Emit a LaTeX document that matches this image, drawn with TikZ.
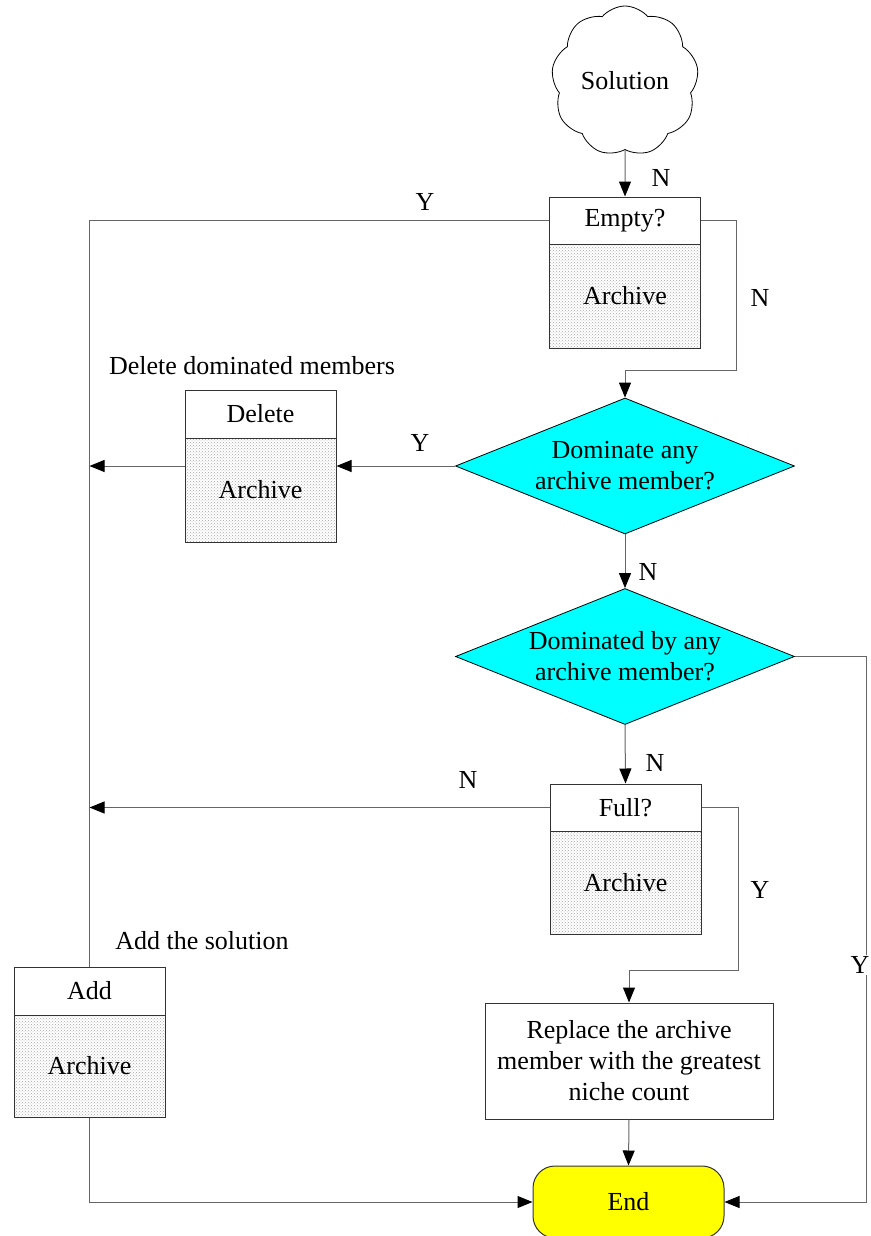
\documentclass[tikz,border=0pt]{standalone}
\usepackage{fontspec}
\setmainfont{Liberation Serif}
\usetikzlibrary{shapes.geometric,shapes.symbols,arrows.meta,patterns}
\definecolor{aquafill}{RGB}{0,255,255}
\definecolor{endfill}{RGB}{255,255,0}
\begin{document}
\begin{tikzpicture}[x=1pt,y=-1pt,
  every node/.style={font=\fontsize{26}{31}\selectfont},
  topbox/.style={draw=black!80,line width=1pt,fill=white,inner sep=0pt,minimum width=151pt,minimum height=47pt},
  arcbox/.style={draw=black!80,line width=1pt,pattern=crosshatch dots,pattern color=black!35,inner sep=0pt,minimum width=151pt,minimum height=104pt},
  decision/.style={diamond,draw=black,line width=0.8pt,fill=aquafill,shape aspect=2.5,inner sep=0pt,minimum width=339pt,minimum height=136pt,align=center},
  conn/.style={draw=black!60,line width=1pt},
  arr/.style={conn,-{Triangle[length=15pt,width=12pt,color=black]}},
  lbl/.style={inner sep=0pt}
]
\useasboundingbox (0,0) rectangle (870,1236);
\clip (0,0) rectangle (870,1236);

% nodes
\node[cloud,draw=black,line width=0.8pt,cloud puffs=9,cloud puff arc=100,aspect=1,minimum width=147pt,minimum height=150pt,inner sep=0pt] (sol) at (625,81) {Solution};

\node[arcbox] (emptyB) at (625,296) {Archive};
\node[topbox] (emptyT) at (625,220.5) {Empty?};

\node[decision] (d1) at (625,466) {Dominate any\\archive member?};

\node[arcbox] (delB) at (260.5,490) {Archive};
\node[topbox,minimum height=48pt] (delT) at (260.5,414) {Delete};

\node[decision] (d2) at (625,656.5) {Dominated by any\\archive member?};

\node[arcbox,minimum height=103pt] (fullB) at (625.5,882.5) {Archive};
\node[topbox] (fullT) at (625.5,807.5) {Full?};

\node[arcbox,minimum height=102pt] (addB) at (89.5,1066) {Archive};
\node[topbox,minimum height=48pt] (addT) at (89.5,991) {Add};

\node[draw=black!80,line width=1pt,inner sep=0pt,minimum width=288pt,minimum height=116pt,align=center] (rep) at (629,1061) {Replace the archive\\member with the greatest\\niche count};

\node[draw=black!80,line width=1pt,fill=endfill,rounded corners=22pt,inner sep=0pt,minimum width=191pt,minimum height=72pt] (end) at (628.5,1202) {End};

\coordinate (R) at (866,0);
\coordinate (T1) at (736,370);
\coordinate (T2) at (738,970);

% connectors
\draw[arr] (sol.south) -- (emptyT.north);
\draw[conn] (emptyT.west) -| (addT.north);
\draw[arr] (emptyT.east) -| (T1) -| (d1.north);
\draw[arr] (d1.west) -- (d1.west -| delB.east);
\draw[arr] (d1.west -| delB.west) -- (d1.west -| addT.north);
\draw[arr] (d1.south) -- (d2.north);
\draw[arr] (d2.east) -- (d2.east -| R) |- (end.east);
\draw[arr] (d2.south) -- (fullT.north);
\draw[arr] (fullT.west) -- (fullT.west -| addT.north);
\draw[arr] (fullT.east) -| (T2) -| (rep.north);
\draw[arr] (rep.south) -- (end.north);
\draw[arr] (addB.south) |- (end.west);

% labels
\node[lbl] (l1) at (661,178) {N};
\node[lbl] (l2) at (425,202) {Y};
\node[lbl] (l3) at (760,298) {N};
\node[lbl] (l4) at (252,366) {Delete dominated members};
\node[lbl] (l5) at (420,443) {Y};
\node[lbl] (l6) at (648,572) {N};
\node[lbl] (l7) at (655,763) {N};
\node[lbl] (l8) at (468,780) {N};
\node[lbl] (l9) at (760,890) {Y};
\node[lbl] (l10) at (202,941) {Add the solution};
\node[lbl,fill=white,inner sep=1pt] (l11) at (860,965) {Y};
\end{tikzpicture}
\end{document}
